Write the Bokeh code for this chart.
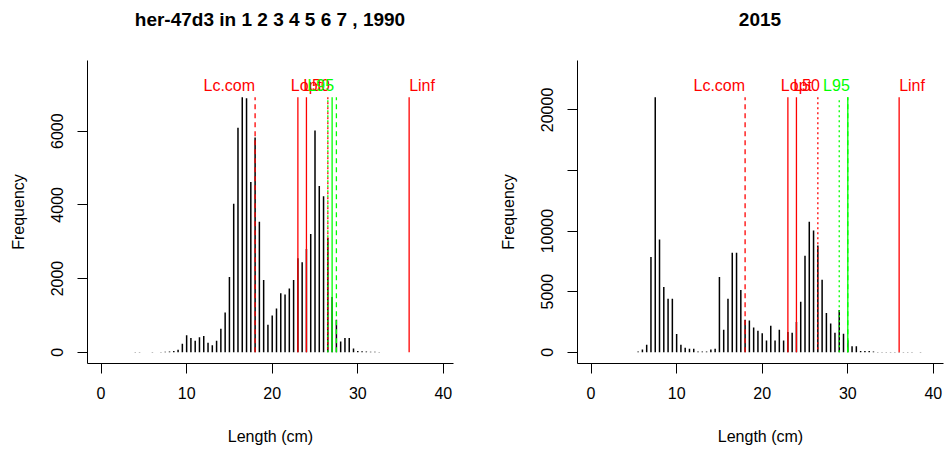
from bokeh.plotting import figure
from bokeh.layouts import row, column
from bokeh.models import Range1d, FixedTicker, Div
from bokeh.embed import file_html
from bokeh.resources import INLINE
from bokeh.core.properties import value

# ---------------- data ----------------
titles = ["her-47d3 in 1 2 3 4 5 6 7 , 1990", "2015"]

len_1990 = [4.0, 4.5, 6.0, 7.0, 7.5, 8.0, 8.5, 9.0, 9.5, 10.0,
            10.5, 11.0, 11.5, 12.0, 12.5, 13.0, 13.5, 14.0, 14.5, 15.0,
            15.5, 16.0, 16.5, 17.0, 17.5, 18.0, 18.5, 19.0, 19.5, 20.0,
            20.5, 21.0, 21.5, 22.0, 22.5, 23.0, 23.5, 24.0, 24.5, 25.0,
            25.5, 26.0, 26.5, 27.0, 27.5, 28.0, 28.5, 29.0, 29.5, 30.0,
            30.5, 31.0, 31.5, 32.0, 32.5]
freq_1990 = [10, 10, 10, 10, 15, 20, 35, 70, 230, 460,
             390, 310, 410, 440, 260, 190, 310, 640, 1080, 2040,
             4030, 6090, 6920, 6890, 4620, 5830, 3540, 1960, 750, 1000,
             1190, 1600, 1570, 1730, 1960, 2550, 2440, 2800, 3210, 6020,
             4510, 4230, 3100, 1500, 880, 290, 390, 390, 100, 35,
             25, 20, 15, 15, 10]

len_2015 = [5.5, 6.0, 6.5, 7.0, 7.5, 8.0, 8.5, 9.0, 9.5, 10.0,
            10.5, 11.0, 11.5, 12.0, 12.5, 13.0, 13.5, 14.0, 14.5, 15.0,
            15.5, 16.0, 16.5, 17.0, 17.5, 18.0, 18.5, 19.0, 19.5, 20.0,
            20.5, 21.0, 21.5, 22.0, 22.5, 23.0, 23.5, 24.0, 24.5, 25.0,
            25.5, 26.0, 26.5, 27.0, 27.5, 28.0, 28.5, 29.0, 29.5, 30.0,
            30.5, 31.0, 31.5, 32.0, 32.5, 33.0, 33.5, 34.0, 34.5, 35.0,
            35.5, 36.0, 36.5, 37.0, 37.5, 38.5]
freq_2015 = [55, 220, 630, 7870, 21050, 9310, 5380, 4420, 4420, 1500,
             630, 380, 300, 300, 55, 55, 55, 220, 300, 6220,
             1860, 4420, 8220, 8220, 5130, 2680, 2620, 2050, 1780, 1580,
             980, 2180, 980, 1860, 980, 1670, 1610, 2500, 4180, 7970,
             10780, 10050, 8820, 5980, 3250, 2380, 1610, 3490, 1530, 1000,
             490, 490, 110, 110, 110, 55, 30, 30, 30, 30,
             30, 30, 30, 30, 30, 20]

x_ticks = [0, 10, 20, 30, 40]
y_ticks = [[0, 2000, 4000, 6000], [0, 5000, 10000, 15000, 20000]]
hidden_y_labels = [[], [15000]]

linf = 36.0
lc_com = [18.0, 18.0]
l_mat = [23.0, 23.0]
l_opt = [24.0, 24.0]
l_mean = [26.5, 26.5]
l_green_dot = [26.5, 29.0]
l95 = [27.0, 30.0]
l_green_dash = [27.5, 30.0]

FONT = "Liberation Sans"
RED = "#FF0000"
GREEN = "#00FF00"
FRAME_W = 366
FRAME_H = 303
TITLE_H = 40
TOP = 20
FIG_W = 473


def vline(p, x, top, color, dash="solid", offset=0):
    p.segment(x0=[x], y0=[0], x1=[x], y1=[top], line_color=color,
              line_width=1.3, line_dash=dash, line_dash_offset=offset)


def label(p, x, y, txt, color, align, xoff=0):
    p.text(x=[x], y=[y], text=[txt], text_color=color,
           text_font=value(FONT), text_font_size="16px", text_align=align,
           text_baseline="alphabetic", x_offset=xoff, y_offset=-12)


def title_div(i, border_left):
    html = ('<div style="margin-left:%dpx;width:%dpx;text-align:center;'
            'font-family:\'%s\';font-size:19px;font-weight:bold;'
            'line-height:%dpx;color:black;white-space:nowrap">%s</div>'
            % (border_left, FRAME_W, FONT, TITLE_H, titles[i]))
    return Div(text=html, width=FIG_W, height=TITLE_H, margin=(0, 0, 0, 0))


def panel(i, lengths, freq, border_left, border_right):
    m = max(freq)
    ytop = 1.1 * m
    xmax = 1.1 * linf
    p = figure(frame_width=FRAME_W, frame_height=FRAME_H,
               x_range=Range1d(-0.04 * xmax, 1.04 * xmax),
               y_range=Range1d(-0.04 * ytop, 1.04 * ytop),
               output_backend="svg", toolbar_location=None,
               min_border_left=border_left, min_border_right=border_right,
               min_border_top=TOP, min_border_bottom=89,
               background_fill_color="white", border_fill_color="white")
    p.outline_line_color = None
    p.grid.visible = False

    for ax in (p.xaxis[0], p.yaxis[0]):
        ax.axis_line_color = "black"
        ax.major_tick_line_color = "black"
        ax.major_tick_out = 10
        ax.major_tick_in = 0
        ax.minor_tick_out = 0
        ax.minor_tick_in = 0
        ax.major_label_text_font = FONT
        ax.major_label_text_font_size = "16px"
        ax.major_label_text_color = "black"
        ax.axis_label_text_font = FONT
        ax.axis_label_text_font_size = "16px"
        ax.axis_label_text_font_style = "normal"
        ax.axis_label_text_color = "black"

    p.xaxis.ticker = FixedTicker(ticks=x_ticks)
    p.xaxis.axis_label = "Length (cm)"
    p.xaxis.major_label_standoff = 13
    p.xaxis.axis_label_standoff = 26

    p.yaxis.ticker = FixedTicker(ticks=y_ticks[i])
    p.yaxis.major_label_orientation = "vertical"
    p.yaxis.axis_label = "Frequency"
    p.yaxis.major_label_standoff = 14
    p.yaxis.axis_label_standoff = 22
    if hidden_y_labels[i]:
        p.yaxis.major_label_overrides = {v: "" for v in hidden_y_labels[i]}

    # frequency bars (type = "h")
    p.segment(x0=lengths, y0=[0] * len(lengths), x1=lengths, y1=freq,
              line_color="black", line_width=1.5)

    # reference lines
    vline(p, lc_com[i], m, RED, "5 4")
    vline(p, l_mat[i], m, RED)
    vline(p, l_opt[i], m, RED)
    vline(p, l_green_dash[i], m, GREEN, "5 4")
    vline(p, l95[i], m, GREEN)
    vline(p, l_green_dot[i], m, GREEN, "2 3")
    vline(p, l_mean[i], m, RED, "2 3", 2)
    vline(p, linf, m, RED)

    # labels
    label(p, lc_com[i], m, "Lc.com", RED, "right")
    label(p, l_opt[i], m, "Lopt", RED, "center")
    label(p, l_mean[i], m, "L50", RED, "right", 2)
    label(p, l95[i], m, "L95", GREEN, "right", 2)
    label(p, linf, m, "Linf", RED, "left")
    return p


p1 = panel(0, len_1990, freq_1990, 87, 20)
p2 = panel(1, len_2015, freq_2015, 104, 3)
layout = column(row(title_div(0, 87), title_div(1, 104)), row(p1, p2))

open("out.html", "w").write(file_html(layout, INLINE))
